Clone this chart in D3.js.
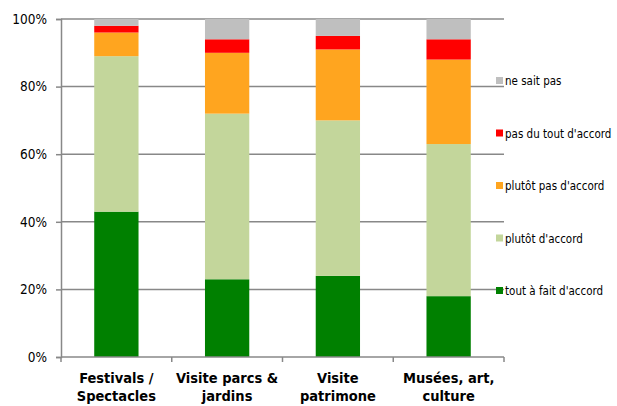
<!DOCTYPE html>
<html><head><meta charset="utf-8">
<script src="https://cdn.jsdelivr.net/npm/d3@7"></script>
<style>
body{margin:0;background:#fff;}
svg{display:block;}
</style></head>
<body>
<svg id="chart" width="617" height="406"></svg>
<script>
const categories = [["Festivals /","Spectacles"],["Visite parcs &","jardins"],["Visite","patrimone"],["Musées, art,","culture"]];
const seriesNames = ["tout à fait d'accord","plutôt d'accord","plutôt pas d'accord","pas du tout d'accord","ne sait pas"];
const toutAFait = [43,23,24,18];
const plutotAccord = [46,49,46,45];
const plutotPas = [7,18,21,25];
const pasDuTout = [2,4,4,6];
const neSaitPas = [2,6,5,6];
const yTicks = [0,20,40,60,80,100];
const colors = ["#008000","#c3d69b","#ffa51f","#ff0000","#bfbfbf"];

(function(){
const seriesValues = [toutAFait, plutotAccord, plutotPas, pasDuTout, neSaitPas];
const keys = categories.map((c,i)=>i);
const rows = keys.map(i => {
  const r = {cat:i};
  seriesNames.forEach((s,j)=> r[s] = seriesValues[j][i]);
  return r;
});
const stack = d3.stack().keys(seriesNames)(rows);

const svg = d3.select("#chart");
const fontFam = "'DejaVu Sans Condensed','DejaVu Sans',sans-serif";
const mLeft = 61, mRight = 504, mTop = 19, mBottom = 357;
const x = d3.scaleBand().domain(keys).range([mLeft,mRight]).paddingInner(0.6).paddingOuter(0.3);
const y = d3.scaleLinear().domain([0,100]).range([mBottom,mTop]);

// gridlines
svg.append("g").selectAll("line").data(yTicks.filter(t=>t>0)).join("line")
  .attr("x1",mLeft).attr("x2",mRight)
  .attr("y1",d=>y(d)).attr("y2",d=>y(d))
  .attr("stroke","#888").attr("stroke-width",1.5);

// bars
svg.append("g").selectAll("g").data(stack).join("g")
  .attr("fill",(d,i)=>colors[i])
  .selectAll("rect").data(d=>d).join("rect")
  .attr("x",d=>x(d.data.cat))
  .attr("width",x.bandwidth())
  .attr("y",d=>y(d[1]))
  .attr("height",d=>y(d[0])-y(d[1]));

// y axis
const yAxis = svg.append("g").attr("transform",`translate(${mLeft},0)`)
  .call(d3.axisLeft(y).tickValues(yTicks).tickFormat(d=>d+"%").tickSize(5).tickPadding(9));
yAxis.select(".domain").attr("stroke","#888").attr("stroke-width",1.5);
yAxis.selectAll(".tick line").attr("stroke","#888").attr("stroke-width",1.5);
yAxis.selectAll("text").attr("font-family",fontFam).attr("font-size",13.5).attr("fill","#000");

// x axis
const step = (mRight-mLeft)/categories.length;
const xAxis = svg.append("g").attr("transform",`translate(0,${mBottom})`);
xAxis.append("line").attr("x1",mLeft).attr("x2",mRight).attr("y1",0).attr("y2",0)
  .attr("stroke","#888").attr("stroke-width",1.5);
xAxis.selectAll(".xt").data(d3.range(categories.length+1)).join("line")
  .attr("x1",d=>mLeft+d*step).attr("x2",d=>mLeft+d*step)
  .attr("y1",0).attr("y2",5).attr("stroke","#888").attr("stroke-width",1.5);
const labels = xAxis.selectAll(".xl").data(keys).join("text")
  .attr("x",d=>x(d)+x.bandwidth()/2)
  .attr("text-anchor","middle")
  .attr("font-family",fontFam).attr("font-weight","bold").attr("font-size",14.5).attr("fill","#000");
labels.selectAll("tspan").data(d=>categories[d]).join("tspan")
  .attr("x",function(){return this.parentNode.getAttribute("x");})
  .attr("y",(d,i)=>26+i*17.5)
  .text(d=>d);

// legend
const legendOrder = [4,3,2,1,0];
const leg = svg.append("g").selectAll("g").data(legendOrder).join("g")
  .attr("transform",(d,i)=>`translate(496,${81+i*52.5})`);
leg.append("rect").attr("x",0).attr("y",-4).attr("width",7).attr("height",7).attr("fill",d=>colors[d]);
leg.append("text").attr("x",9).attr("y",4).attr("font-family",fontFam).attr("font-size",11.5)
  .attr("fill","#000").text(d=>seriesNames[d]);
})();
</script>
</body></html>
